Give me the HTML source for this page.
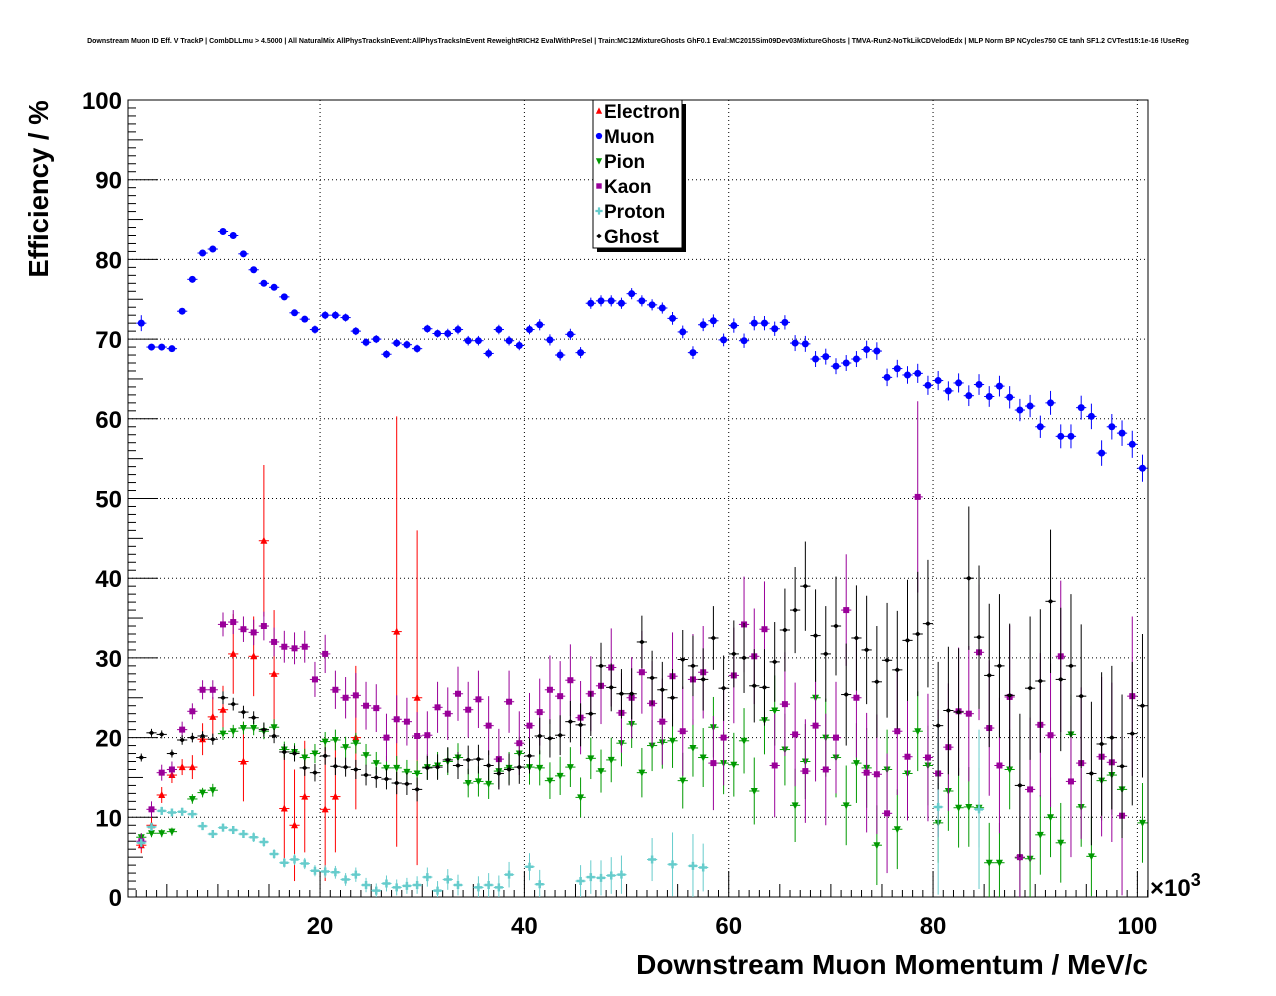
<!DOCTYPE html>
<html><head><meta charset="utf-8"><style>
html,body{margin:0;padding:0;background:#fff;}
svg{display:block;font-family:"Liberation Sans",Arial,sans-serif;}
</style></head><body>
<svg id="chart" width="1276" height="996" xmlns="http://www.w3.org/2000/svg">
<text x="638" y="43" text-anchor="middle" font-size="7" font-weight="bold">Downstream Muon ID Eff. V TrackP | CombDLLmu &gt; 4.5000 | All NaturalMix AllPhysTracksInEvent:AllPhysTracksInEvent ReweightRICH2 EvalWithPreSel | Train:MC12MixtureGhosts GhF0.1 Eval:MC2015Sim09Dev03MixtureGhosts | TMVA-Run2-NoTkLikCDVelodEdx | MLP Norm BP NCycles750 CE tanh SF1.2 CVTest15:1e-16 !UseReg</text>
<g id="grid"></g><g id="axes"></g><g id="marks"></g>
<text x="48" y="189" text-anchor="middle" font-size="27.5" font-weight="bold" transform="rotate(-90 48 189)">Efficiency / %</text>
<text x="1148" y="974" text-anchor="end" font-size="28" font-weight="bold">Downstream Muon Momentum / MeV/c</text>
<text x="1150" y="896" font-size="24" font-weight="bold">×10<tspan dy="-10" font-size="18">3</tspan></text>
<g>
<rect x="597" y="104" width="89" height="148" fill="#000"/>
<rect x="593" y="100" width="89" height="148" fill="#fff" stroke="#000" stroke-width="1"/>
</g>
<g id="legend-items"></g>
</svg>
<script>
const xTicks=[20,40,60,80,100];
const yTicks=[0,10,20,30,40,50,60,70,80,90,100];
const binStart=2.5;
const muon=[72,69,69,68.8,73.5,77.5,80.8,81.3,83.5,83,80.7,78.7,77,76.5,75.3,73.3,72.5,71.2,73,73,72.7,71,69.6,70,68.1,69.5,69.3,68.8,71.3,70.7,70.7,71.2,69.8,69.8,68.2,71.2,69.8,69.2,71.2,71.8,69.9,68,70.6,68.3,74.5,74.8,74.8,74.5,75.7,74.8,74.3,73.9,72.6,70.9,68.3,71.8,72.3,69.9,71.7,69.8,72,72,71.3,72.1,69.5,69.4,67.5,67.8,66.6,67,67.5,68.7,68.5,65.2,66.3,65.5,65.7,64.2,64.8,63.5,64.5,62.9,64.3,62.8,64.1,62.7,61.1,61.6,59,62,57.8,57.8,61.4,60.3,55.7,59,58.2,56.8,53.8];
const pion=[7.5,8,8,8.2,null,12.3,13.1,13.4,20.5,20.8,21.2,21.2,20.8,21.3,18.5,18.2,17.5,18,19.5,19.7,18.8,19.3,17.8,16.8,16.2,16.2,15.7,15.5,16.3,16.5,17,17.5,14.3,14.5,14.2,15.8,16.2,18,16.3,16.2,14.6,15.2,16.3,12.5,17.4,15.8,17.2,19.3,21.7,15.6,19,19.4,19.6,14.6,18.7,17.5,21.3,16.8,16.6,19.6,13.3,22.2,23.4,18.5,11.5,17,25,20,17.5,11.5,16.8,16.2,6.5,16,8.5,15.5,20.8,16.5,9.3,13.3,11.2,11.3,11.2,4.3,4.3,16,4.9,4.8,7.8,10,6.8,20.4,11.3,5.1,14.6,15.3,13.5,null,9.3];
const kaon=[7,11,15.6,16,21,23.3,26,26,34.2,34.5,33.6,33.2,34,32,31.4,31.2,31.4,27.3,30.5,26,25,25.3,24,23.7,20,22.3,22,20.2,20.3,23.8,23,25.5,23.5,24.8,21.5,17.3,24.5,19.3,21.5,23.2,26,25.2,27.2,22.5,25.5,26.5,28.8,23.1,25,28.2,24.3,22,27.7,20.8,27.3,28.2,16.8,20,27.8,34.2,30.2,33.6,16.5,24.2,20.4,15.8,21.5,16,20,36,25,15.6,15.4,10.5,20.8,17.6,50.2,17.5,15.5,18.8,23.3,23,30.7,21.2,16.5,25.1,5,13.5,21.6,20.3,30.2,14.5,16.8,null,17.6,16.9,10.2,25.2,null];
const ghost=[17.5,20.6,20.4,18,19.7,20,20.2,19.8,25,24.2,23.2,22.5,21,20.2,18.2,18,16.2,15.6,17.7,16.4,16.3,16,15.3,15,14.8,14.3,14.2,13.5,16.2,16.3,17.2,16.5,17.2,17.3,16.5,15.5,16,16.3,17.7,20.2,19.9,20.3,22,21.6,23,29,26.3,25.5,25.5,32,27.5,26,25,29.8,29,27.3,32.5,26.2,30.5,30,26.5,26.3,29.5,33.5,36,39,32.8,30.5,34,25.4,32.5,31,27,29.7,28.5,32.2,33,34.3,21.5,23.4,23.2,40,32.6,27.8,29,25.3,14,26.2,27.1,37.1,27.3,29,25.2,15.5,19.2,20,16.4,20.5,24];
const proton=[6.8,8.8,10.8,10.6,10.7,10.4,8.9,7.9,8.7,8.4,7.9,7.5,6.9,5.4,4.3,4.7,4.2,3.3,3.2,3.1,2.2,2.8,1.5,0.8,1.7,1.2,1.4,1.5,2.5,0.8,2.2,1.5,null,1.2,1.5,1.2,2.8,null,3.8,1.6,null,null,null,2,2.5,2.4,2.7,2.8,null,null,4.7,null,4.1,null,3.9,3.7,null,null,null,null,null,null,null,null,null,null,null,null,null,null,null,null,null,null,null,null,null,null,11.3,null,null,null,11,null];
const electron=[6.5,9,12.8,15.3,16.3,16.3,19.8,22.6,23.5,30.5,17,30.2,44.7,28,11.1,9,12.6,null,11,12.6,null,20,null,null,null,33.3,null,25];
const muonErr=[1,0.4,0.4,0.4,0.4,0.4,0.4,0.4,0.4,0.4,0.4,0.4,0.4,0.4,0.4,0.4,0.4,0.5,0.5,0.5,0.5,0.5,0.5,0.5,0.5,0.5,0.5,0.5,0.5,0.5,0.6,0.6,0.6,0.6,0.6,0.6,0.6,0.6,0.6,0.7,0.7,0.7,0.7,0.7,0.7,0.7,0.7,0.7,0.7,0.7,0.7,0.7,0.8,0.8,0.8,0.8,0.8,0.8,0.9,0.9,0.9,0.9,0.9,0.9,1,1,1,1,1,1,1,1.1,1.1,1.1,1.1,1.1,1.2,1.2,1.2,1.2,1.2,1.3,1.3,1.3,1.3,1.4,1.4,1.4,1.4,1.5,1.5,1.5,1.5,1.6,1.6,1.6,1.6,1.7,1.7];
const pionErr=[0.5,0.5,0.5,0.5,0.6,0.6,0.6,0.8,0.8,0.8,0.8,0.9,1,1,1,1.1,1.1,1.2,1.2,1.3,1.3,1.3,1.4,1.4,1.5,1.5,1.5,1.6,1.6,1.7,1.7,1.8,1.8,1.9,1.9,2,2,2.1,2.2,2.2,2.3,2.4,2.5,2.5,2.6,2.7,2.8,2.9,3,3.1,3.2,3.3,3.4,3.5,3.6,3.7,3.8,3.9,4,4.1,4.2,4.3,4.4,4.5,4.6,4.7,4.8,4.9,5,5,5,5,5,5,5,5,5,5,5,5,5,5,5,5,5,5,5,5,5,5,5,5,5,5,5,5,5,5,5];
const kaonErr=[1,1,1,1,1,1,1.2,1.2,1.5,1.5,1.6,1.6,1.8,1.8,2,2,2,2.2,2.4,2.4,2.6,2.8,3,3,3,3,3,3,3,3.2,3.3,3.4,3.5,3.6,3.7,3.8,3.9,4,4.1,4.2,4.3,4.4,4.5,4.6,4.7,4.8,4.9,5,5.1,5.2,5.3,5.4,5.5,5.6,5.7,5.8,5.9,6,6,6,6,6,6.5,6.5,6.5,6.5,7,7,7,7,7.5,7.5,7.5,7.5,8,8,12,8,8,8,8,8.5,8.5,8.5,8.5,9,9,9,9,9,9.5,9.5,9.5,9.5,10,10,10,10,10];
const ghostErr=[0.5,0.5,0.5,0.5,0.6,0.6,0.6,0.7,0.8,0.8,0.8,0.8,0.9,0.9,1,1,1,1.1,1.1,1.1,1.2,1.2,1.3,1.3,1.3,1.4,1.4,1.5,1.5,1.6,1.6,1.7,1.8,1.8,1.9,2,2,2.1,2.2,2.3,2.4,2.5,2.6,2.7,2.8,2.9,3,3.1,3.2,3.3,3.4,3.5,3.6,3.7,3.8,3.9,4,4.1,4.2,4.4,4.6,4.8,5,5.2,5.4,5.6,5.8,6,6.2,6.4,6.6,6.8,7,7.2,7.4,7.6,7.8,8,8,8,8,9,9,9,9,9,9,9,9,9,9,9,9,9,9,9,9,9,9];
const protonErr=[0.5,0.5,0.5,0.5,0.5,0.5,0.5,0.5,0.5,0.5,0.5,0.6,0.6,0.6,0.6,0.7,0.7,0.7,0.8,0.8,0.8,0.9,0.9,0.9,1,1,1,1.1,1.2,1.2,1.3,1.3,1.4,1.4,1.5,1.5,1.6,1.6,1.7,1.8,1.8,1.9,2,2,2.1,2.2,2.3,2.4,2.5,2.6,2.7,2.8,4,3,4,3,4,4,4,4,4,4,4,4,4,4,4,4,4,4,4,4,4,4,4,4,4,4,11,4,4,4,10,4];
const electronErr=[1,1,1,1,1,1.5,2,2.5,3,5,5,5,9.5,8,7,7,7,null,9,7,null,9,null,null,null,27,null,21];
const series=[
 {name:'electron',label:'Electron',vals:electron,err:electronErr,color:'#ff0000',shape:'tri-up'},
 {name:'muon',label:'Muon',vals:muon,err:muonErr,color:'#0000ff',shape:'circle'},
 {name:'pion',label:'Pion',vals:pion,err:pionErr,color:'#009900',shape:'tri-down'},
 {name:'kaon',label:'Kaon',vals:kaon,err:kaonErr,color:'#990099',shape:'square'},
 {name:'proton',label:'Proton',vals:proton,err:protonErr,color:'#66cccc',shape:'cross'},
 {name:'ghost',label:'Ghost',vals:ghost,err:ghostErr,color:'#000000',shape:'diamond'}
];
const X0=128,X1=1148,Y0=897,Y1=100,XMIN=1.2,XMAX=101.04,YMIN=0,YMAX=100;
const xs=v=>X0+(v-XMIN)/(XMAX-XMIN)*(X1-X0);
const ys=v=>Y0-(v-YMIN)/(YMAX-YMIN)*(Y0-Y1);
const NS='http://www.w3.org/2000/svg';
function mk(tag,attrs,parent){const e=document.createElementNS(NS,tag);for(const k in attrs)e.setAttribute(k,attrs[k]);parent.appendChild(e);return e;}
const grid=document.getElementById('grid'),axes=document.getElementById('axes'),marks=document.getElementById('marks');
xTicks.forEach(t=>{
 const l=mk('line',{x1:xs(t),x2:xs(t),y1:Y0,y2:Y1,stroke:'#000','stroke-dasharray':'1,3','stroke-width':1},grid);
 
 
 mk('line',{x1:xs(t),x2:xs(t),y1:Y0,y2:Y0-26,stroke:'#000'},axes);
 const tx=mk('text',{x:xs(t),y:Y0+37,'text-anchor':'middle','font-size':24,'font-weight':'bold'},axes);
 tx.textContent=t;
 
 
});
for(let t=5;t<=100;t+=5){if(t%20)mk('line',{x1:xs(t),x2:xs(t),y1:Y0,y2:Y0-13,stroke:'#000'},axes);}
for(let t=2;t<=101;t+=1){if(t%5)mk('line',{x1:xs(t),x2:xs(t),y1:Y0,y2:Y0-7,stroke:'#000'},axes);}
yTicks.forEach(t=>{
 if(t>0&&t<100){const l=mk('line',{x1:X0,x2:X1,y1:ys(t),y2:ys(t),stroke:'#000','stroke-dasharray':'1,3','stroke-width':1},grid);
 
 }
 mk('line',{x1:X0,x2:X0+30,y1:ys(t),y2:ys(t),stroke:'#000'},axes);
 const tx=mk('text',{x:X0-6,y:ys(t)+9,'text-anchor':'end','font-size':24,'font-weight':'bold'},axes);
 tx.textContent=t;
 
 
});
for(let t=1;t<100;t++){if(t%10)mk('line',{x1:X0,x2:X0+(t%5?8:15),y1:ys(t),y2:ys(t),stroke:'#000'},axes);}
const frame=mk('rect',{x:X0,y:Y1,width:X1-X0,height:Y0-Y1,fill:'none',stroke:'#000'},axes);


function marker(shape,cx,cy,c,p,s){
 s=s||1;let e;
 if(shape==='circle')e=mk('circle',{cx:cx,cy:cy,r:3.5*s,fill:c},p);
 else if(shape==='square')e=mk('rect',{x:cx-3*s,y:cy-3*s,width:6*s,height:6*s,fill:c},p);
 else if(shape==='tri-up')e=mk('polygon',{points:`${cx-3.5*s},${cy+3*s} ${cx+3.5*s},${cy+3*s} ${cx},${cy-4*s}`,fill:c},p);
 else if(shape==='tri-down')e=mk('polygon',{points:`${cx-3.5*s},${cy-3*s} ${cx+3.5*s},${cy-3*s} ${cx},${cy+4*s}`,fill:c},p);
 else if(shape==='diamond')e=mk('polygon',{points:`${cx-3*s},${cy} ${cx},${cy-2.5*s} ${cx+3*s},${cy} ${cx},${cy+2.5*s}`,fill:c},p);
 else e=mk('path',{d:`M${cx-4*s},${cy}H${cx+4*s}M${cx},${cy-4*s}V${cy+4*s}`,stroke:c,'stroke-width':2.5*s},p);
 return e;
}
const clamp=v=>Math.max(Y1,Math.min(Y0,v));
series.forEach(s=>{
 const g=mk('g',{},marks);
 
 
 s.vals.forEach((v,i)=>{
  if(v===null||v===undefined)return;
  const xv=binStart+i,cx=xs(xv),cy=ys(v),er=s.err[i]||0;
  mk('line',{x1:xs(xv-0.5),x2:xs(xv+0.5),y1:cy,y2:cy,stroke:s.color,'stroke-width':1},g);
  mk('line',{x1:cx,x2:cx,y1:clamp(ys(v+er)),y2:clamp(ys(v-er)),stroke:s.color,'stroke-width':1},g);
  const m=marker(s.shape,cx,cy,s.color,g);
  
  
 });
});
const li=document.getElementById('legend-items');
series.forEach((s,k)=>{
 const y=111+k*25;
 const g=mk('g',{},li);
 
 
 marker(s.shape,599,y,s.color,g,0.9);
 const t=mk('text',{x:604,y:y+7,'font-size':19,'font-weight':'bold'},g);
 t.textContent=s.label;
});
</script>
</body></html>
